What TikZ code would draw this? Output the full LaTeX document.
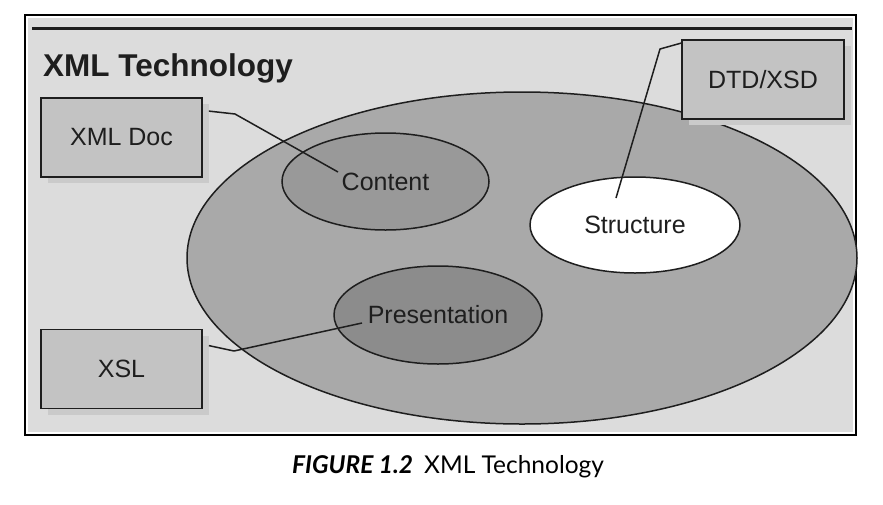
\documentclass[tikz,border=0pt]{standalone}
\usepackage{fontspec}
\setmainfont{Liberation Sans}
\newfontfamily\capfont{Lato}
\usetikzlibrary{shapes.geometric,shadows,calc}
\definecolor{bggrey}{HTML}{DCDCDC}
\definecolor{boxgrey}{HTML}{C3C3C3}
\definecolor{shadgrey}{HTML}{CACACA}
\definecolor{biggrey}{HTML}{A9A9A9}
\definecolor{contgrey}{HTML}{999999}
\definecolor{presgrey}{HTML}{8C8C8C}
\definecolor{inkc}{HTML}{1E1E1E}
\tikzset{
  labelbox/.style={draw=inkc, line width=1.8pt, fill=boxgrey, minimum width=161pt, minimum height=79pt, inner sep=0pt,
    font=\fontsize{25}{30}\selectfont, text=inkc,
    drop shadow={shadow xshift=7pt, shadow yshift=-6pt, fill=shadgrey, opacity=1}},
  oval/.style={ellipse, draw=inkc, line width=1.5pt, inner sep=0pt, font=\fontsize{25}{30}\selectfont, text=inkc},
  link/.style={draw=inkc, line width=1.5pt, line join=round}
}
\begin{document}
\begin{tikzpicture}[x=1pt,y=-1pt]
\useasboundingbox[fill=white] (0,0) rectangle (883,504);
% frame
\draw[line width=1.5pt, black] (25,15) rectangle (856,435);
\fill[bggrey] (28,18) rectangle (853,432);
\draw[line width=3pt, inkc] (32,28) -- (852,28);
\node[anchor=base west, inner sep=0pt, font=\bfseries\fontsize{31.5}{36}\selectfont, text=inkc] (title) at (43,76) {XML Technology};
% big ellipse and inner ellipses
\node[oval, fill=biggrey, minimum width=670pt, minimum height=332pt] (tech) at (522,258) {};
\node[oval, fill=contgrey, minimum width=207pt, minimum height=97pt] (content) at (385.5,181.5) {Content};
\node[oval, fill=white, minimum width=210pt, minimum height=96pt] (structure) at (635,225) {Structure};
\node[oval, fill=presgrey, minimum width=208pt, minimum height=98pt] (presentation) at (438,315) {Presentation};
% boxes
\node[labelbox] (xmldoc) at (121.5,137.5) {XML Doc};
\node[labelbox] (xsl) at (121.5,369) {XSL};
\node[labelbox, minimum width=162pt] (dtd) at (763,79.5) {DTD/XSD};
% connectors
\coordinate (b1) at (235,114);
\coordinate (e1) at (338,172);
\coordinate (b2) at (234,351);
\coordinate (e2) at (362,323);
\coordinate (b3) at (660,49);
\coordinate (e3) at (616,198);
\draw[link] ([shift={(6,14)}]xmldoc.north east) -- (b1) -- (e1);
\draw[link] ([shift={(6,17)}]xsl.north east) -- (b2) -- (e2);
\draw[link] ([shift={(0,4)}]dtd.north west) -- (b3) -- (e3);
% caption
\node[anchor=base west, inner sep=0pt, font=\capfont\fontsize{24.5}{29}\selectfont, text=black] (caption) at (292,473) {\textbf{\textit{FIGURE 1.2}}\hspace{0.45em}XML Technology};
\end{tikzpicture}
\end{document}
